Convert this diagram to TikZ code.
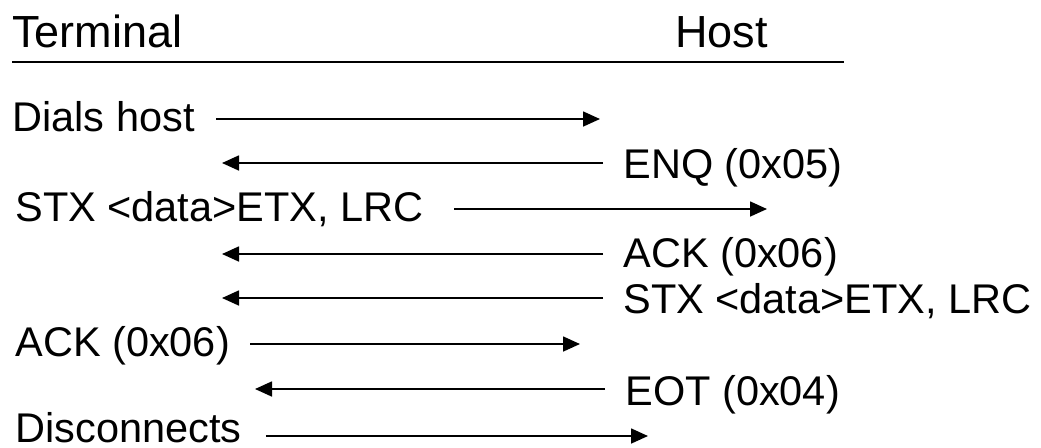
\documentclass[tikz,border=0pt]{standalone}
\usepackage{fontspec}
\setmainfont{Liberation Sans}
\usetikzlibrary{arrows.meta}

\tikzset{
  msg/.style={-{Triangle[length=8.5pt,width=7.5pt]}, line width=0.85pt},
  lbl/.style={font=\fontsize{20.75}{22}\selectfont, inner sep=0pt, anchor=west,
              text height=14.86pt, text depth=0pt},
  hdr/.style={lbl, font=\fontsize{22.5}{24}\selectfont, text height=16.1pt},
}

\begin{document}
\begin{tikzpicture}[x=0.5pt, y=-0.5pt]
  \useasboundingbox (0,0) rectangle (1041,447);

  % header
  \node[hdr] (term) at (12,31) {Terminal};
  \node[hdr] (host) at (675,31) {Host};
  \coordinate (ruleL) at (12,62);
  \coordinate (ruleR) at (844,62);
  \draw[line width=1.3pt] (ruleL) -- (ruleR);

  % terminal side
  \node[lbl] (dial) at (12,117) {Dials host};
  \node[lbl] (stxT) at (15,207) {STX <data>ETX, LRC};
  \node[lbl] (ackT) at (15,342) {ACK (0x06)};
  \node[lbl] (disc) at (15,428) {Disconnects};

  % host side
  \node[lbl] (enq)  at (623,164) {ENQ (0x05)};
  \node[lbl] (ackH) at (623,253) {ACK (0x06)};
  \node[lbl] (stxH) at (623,299) {STX <data>ETX, LRC};
  \node[lbl] (eot)  at (625,391) {EOT (0x04)};

  % arrow ends
  \coordinate (dialEnd) at (600,119);
  \coordinate (enqEnd)  at (222,163);
  \coordinate (stxTEnd) at (767,209);
  \coordinate (ackHEnd) at (222,254);
  \coordinate (stxHEnd) at (222,298);
  \coordinate (ackTEnd) at (580,344);
  \coordinate (eotEnd)  at (255,389);
  \coordinate (discEnd) at (648,436);

  \draw[msg] (dial.east |- dialEnd) ++(10.5pt,0) -- (dialEnd);
  \draw[msg] (enq.west |- enqEnd) ++(-10pt,0) -- (enqEnd);
  \draw[msg] (stxT.east |- stxTEnd) ++(15pt,0) -- (stxTEnd);
  \draw[msg] (ackH.west |- ackHEnd) ++(-10pt,0) -- (ackHEnd);
  \draw[msg] (stxH.west |- stxHEnd) ++(-10pt,0) -- (stxHEnd);
  \draw[msg] (ackT.east |- ackTEnd) ++(10pt,0) -- (ackTEnd);
  \draw[msg] (eot.west |- eotEnd) ++(-10pt,0) -- (eotEnd);
  \draw[msg] (disc.east |- discEnd) ++(12pt,0) -- (discEnd);
\end{tikzpicture}
\end{document}
